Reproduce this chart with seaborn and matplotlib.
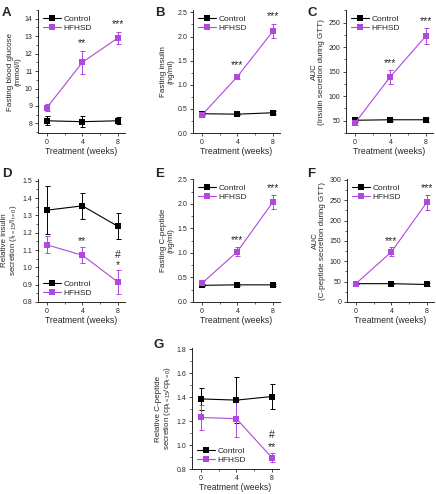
import numpy as np
import pandas as pd
import matplotlib
matplotlib.use("Agg")
import matplotlib.pyplot as plt
import seaborn as sns
from matplotlib.ticker import MultipleLocator, AutoMinorLocator, FormatStrFormatter

weeks = [0, 4, 8]
groups = ["Control", "HFHSD"]

# A: fasting blood glucose
a_ctrl = [8.15, 8.1, 8.15]
a_ctrl_err = [0.25, 0.3, 0.2]
a_hf = [8.9, 11.5, 12.9]
a_hf_err = [0.2, 0.65, 0.35]
# B: fasting insulin
b_ctrl = [0.40, 0.39, 0.42]
b_ctrl_err = [0.03, 0.02, 0.03]
b_hf = [0.37, 1.17, 2.11]
b_hf_err = [0.03, 0.06, 0.15]
# C: AUC insulin
c_ctrl = [51, 52, 52]
c_ctrl_err = [3, 2, 4]
c_hf = [45, 140, 223]
c_hf_err = [4, 14, 16]
# D: relative insulin secretion
d_ctrl = [1.33, 1.355, 1.237]
d_ctrl_err = [0.14, 0.075, 0.075]
d_hf = [1.13, 1.07, 0.915]
d_hf_err = [0.05, 0.045, 0.07]
# E: fasting C-peptide
e_ctrl = [0.34, 0.35, 0.35]
e_ctrl_err = [0.02, 0.02, 0.02]
e_hf = [0.38, 1.03, 2.04]
e_hf_err = [0.04, 0.10, 0.14]
# F: AUC C-peptide
f_ctrl = [45, 45, 43]
f_ctrl_err = [2, 2, 4]
f_hf = [45, 123, 245]
f_hf_err = [2, 11, 18]
# G: relative C-peptide secretion
g_ctrl = [1.385, 1.375, 1.405]
g_ctrl_err = [0.09, 0.195, 0.105]
g_hf = [1.23, 1.22, 0.895]
g_hf_err = [0.105, 0.155, 0.035]

ylabels = {
    "A": "Fasting blood glucose\n(mmol/l)",
    "B": "Fasting insulin\n(ng/ml)",
    "C": "AUC\n(Insulin secretion during GTT)",
    "D": "Relative insulin\nsecretion (I$_{t=15}$/I$_{t=0}$)",
    "E": "Fasting C-peptide\n(ng/ml)",
    "F": "AUC\n(C-peptide secretion during GTT)",
    "G": "Relative C-peptide\nsecretion (cp$_{t=15}$/cp$_{t=0}$)",
}
xlabel = "Treatment (weeks)"

sns.set_style("ticks")
plt.rcParams["font.family"] = ["Liberation Sans", "DejaVu Sans"]
plt.rcParams["mathtext.fontset"] = "custom"
plt.rcParams["mathtext.rm"] = "Liberation Sans"
plt.rcParams["mathtext.it"] = "Liberation Sans"

W, H = 436, 494
fig = plt.figure(figsize=(W / 100, H / 100), dpi=100)

purple = "#B047E0"
colors = {"Control": "black", "HFHSD": purple}

panels = [
    # key, left, bottom, data, ylim, major, stars, legend loc
    ("A", 38, 133, (a_ctrl, a_ctrl_err, a_hf, a_hf_err), (7.45, 14.5), 1,
     [(4, 12.3, "**"), (8, 13.4, "***")], "upper left"),
    ("B", 193, 133, (b_ctrl, b_ctrl_err, b_hf, b_hf_err), (0, 2.55), 0.5,
     [(4, 1.3, "***"), (8, 2.33, "***")], "upper left"),
    ("C", 346, 133, (c_ctrl, c_ctrl_err, c_hf, c_hf_err), (25, 276), 50,
     [(4, 158, "***"), (8, 243, "***")], "upper left"),
    ("D", 38, 302, (d_ctrl, d_ctrl_err, d_hf, d_hf_err), (0.8, 1.51), 0.1,
     [(4, 1.125, "**"), (8, 0.985, "*"), (8, 1.045, "#")], "lower left"),
    ("E", 193, 302, (e_ctrl, e_ctrl_err, e_hf, e_hf_err), (0, 2.51), 0.5,
     [(4, 1.16, "***"), (8, 2.22, "***")], "upper left"),
    ("F", 347, 302, (f_ctrl, f_ctrl_err, f_hf, f_hf_err), (0, 302), 50,
     [(4, 137, "***"), (8, 267, "***")], "upper left"),
    ("G", 192, 469, (g_ctrl, g_ctrl_err, g_hf, g_hf_err), (0.8, 1.81), 0.2,
     [(8, 0.945, "**"), (8, 1.04, "#")], "lower left"),
]

letter_pos = {"A": (2, 16), "B": (155, 16), "C": (307, 16), "D": (2, 177),
              "E": (155, 177), "F": (307, 177), "G": (153, 348)}

for key, left, bottom, (yc, ec, yh, eh), ylim, major, stars, loc in panels:
    height = 123 if key != "G" else 121
    ax = fig.add_axes([left / W, (H - bottom) / H, 87 / W, height / H])
    df = pd.DataFrame({
        "week": weeks * 2,
        "value": list(yc) + list(yh),
        "group": [groups[0]] * 3 + [groups[1]] * 3,
    })
    sns.lineplot(data=df, x="week", y="value", hue="group", palette=colors,
                 marker="s", markersize=4, markeredgewidth=0, linewidth=0.8,
                 ax=ax, legend=True, zorder=3)
    ax.errorbar(weeks, yc, yerr=ec, fmt="none", ecolor="black", elinewidth=0.7,
                capsize=1.8, capthick=0.7, zorder=2)
    ax.errorbar(weeks, yh, yerr=eh, fmt="none", ecolor=purple, elinewidth=0.7,
                capsize=1.8, capthick=0.7, zorder=2)
    for x, y, s in stars:
        ax.text(x, y, s, ha="center", va="bottom", fontsize=7.5)
    ax.set_xlim(-1, 8.8)
    ax.set_ylim(*ylim)
    ax.set_xticks(weeks)
    ax.xaxis.set_minor_locator(MultipleLocator(2))
    ax.yaxis.set_major_locator(MultipleLocator(major))
    ax.yaxis.set_minor_locator(AutoMinorLocator(2))
    if major == 0.5:
        ax.yaxis.set_major_formatter(FormatStrFormatter("%.1f"))
    ax.tick_params(which="major", direction="out", length=2.5, width=0.6,
                   labelsize=5, pad=1.5)
    ax.tick_params(which="minor", direction="out", length=1.5, width=0.5)
    for sp in ["top", "right"]:
        ax.spines[sp].set_visible(False)
    for sp in ["left", "bottom"]:
        ax.spines[sp].set_linewidth(0.7)
    ax.set_xlabel(xlabel, fontsize=6.2, labelpad=1.0)
    ax.set_ylabel(ylabels[key], fontsize=5.8, labelpad=2.5, linespacing=1.0)
    ax.legend(loc=loc, frameon=False, fontsize=6, handlelength=2.2,
              handletextpad=0.3, borderaxespad=0.2, labelspacing=0.2,
              title=None)
    lx, ly = letter_pos[key]
    fig.text(lx / W, 1 - ly / H, key, fontsize=9.5, fontweight="bold")

fig.savefig("out.png", dpi=100)
